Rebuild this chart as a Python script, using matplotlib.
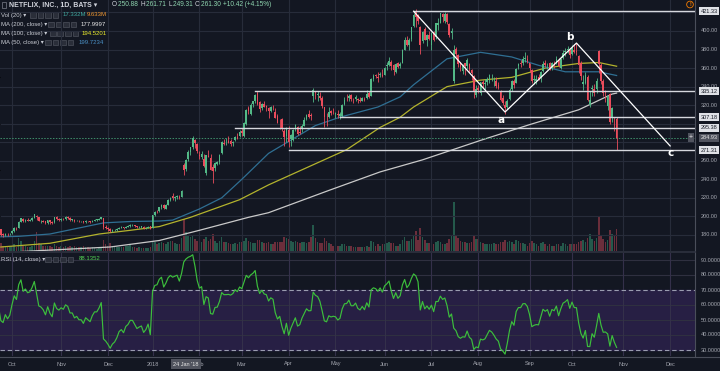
import numpy as np
import pandas as pd
import matplotlib
matplotlib.use("Agg")
import matplotlib.pyplot as plt
from matplotlib.patches import Rectangle
from matplotlib.offsetbox import TextArea, HPacker, AnchoredOffsetbox

plt.rcParams['font.family'] = ['Liberation Sans', 'DejaVu Sans']

# ---------------- data ----------------
holidays = ['2017-09-04', '2017-11-23', '2017-12-25', '2018-01-01', '2018-01-15',
            '2018-02-19', '2018-03-30', '2018-05-28', '2018-07-04', '2018-09-03',
            '2018-11-22', '2018-12-25']

opens = [
 174.0,174.5,175.5,175.5,179.0,179.5,181.5,183.5,182.5,183.5,185.0,186.0,184.0,187.0,187.5,186.0,180.5,180.0,181.0,180.5,
 182.0,184.5,187.8,187.5,194.0,197.5,195.0,196.5,195.5,196.0,198.5,200.0,199.0,195.0,195.5,194.5,192.5,196.0,194.0,193.5,199.0,197.0,
 196.5,197.5,197.0,199.0,198.5,196.5,196.5,195.0,195.5,194.5,194.5,193.5,195.0,194.5,194.0,195.5,196.5,196.5,197.5,198.5,188.5,
 187.0,186.5,184.0,185.0,185.5,186.5,188.0,188.5,187.5,189.0,189.5,190.5,190.5,189.5,188.5,188.8,189.0,187.5,188.0,189.5,
 188.0,201.5,206.0,205.5,210.0,212.5,208.5,212.5,217.5,222.0,219.5,220.5,221.0,221.0,255.0,250.9,261.5,270.0,274.5,282.0,278.0,
 266.0,264.0,262.0,247.0,265.5,263.0,253.0,252.0,256.0,259.0,268.0,279.5,278.0,281.0,281.0,279.0,282.0,285.5,287.0,
 292.0,287.0,300.0,317.0,311.0,321.0,324.0,333.0,323.0,317.0,321.5,319.0,316.5,314.0,317.0,313.0,308.0,304.0,305.0,292.0,287.0,
 293.0,283.0,282.0,295.0,296.0,291.0,295.0,298.0,305.0,311.0,309.0,329.5,334.0,331.0,329.5,327.5,318.0,306.0,307.0,313.5,313.0,
 310.5,310.0,308.0,308.0,321.5,327.0,328.0,331.0,327.0,327.0,327.0,326.0,325.0,327.0,328.0,333.0,330.0,348.5,352.0,350.0,352.0,353.0,
 353.0,362.0,363.0,367.0,363.0,356.0,365.0,362.0,366.0,380.0,390.0,385.0,391.0,405.0,421.4,417.0,404.0,389.0,402.0,390.0,396.0,
 385.0,399.0,393.0,407.0,409.0,418.0,411.0,418.5,408.0,398.0,346.0,381.0,374.0,364.0,357.0,365.0,362.0,364.0,358.0,351.0,331.0,
 338.0,333.0,345.0,343.0,345.0,347.0,350.0,346.0,346.5,342.0,335.0,328.0,320.0,318.0,327.0,337.0,346.0,344.0,362.0,366.0,365.0,370.0,370.0,
 365.0,358.0,347.0,346.0,350.0,350.0,357.0,366.0,364.0,365.0,360.0,366.0,366.0,369.0,360.0,371.0,377.0,379.0,379.0,
 375.0,380.0,378.0,373.0,365.0,343.0,344.0,350.0,320.0,337.0,337.0,337.0,378.0,363.0,346.0,334.0,319.0,332.0,307.0,300.0,305.0]

highs = [
 175.5,176.0,176.5,179.5,180.0,182.0,184.5,184.0,184.5,185.5,187.0,186.5,188.0,189.0,188.0,186.5,182.5,182.0,182.5,182.5,
 185.5,188.5,189.0,195.0,198.5,198.5,197.5,198.0,197.0,199.0,203.0,202.0,199.5,196.0,196.5,195.5,196.5,196.5,195.0,199.5,200.0,198.0,
 198.5,198.5,200.5,200.0,199.0,197.5,197.0,196.5,196.0,195.5,195.0,196.0,195.5,195.0,196.5,197.5,197.5,198.5,199.5,198.5,190.5,
 189.0,188.0,186.5,186.5,187.5,189.0,189.5,189.0,190.0,191.0,191.5,192.0,191.0,190.0,190.0,190.0,189.5,189.0,190.0,190.0,
 201.5,206.0,207.0,210.0,213.0,213.0,213.5,218.5,221.0,225.0,222.0,223.0,223.0,228.0,257.5,261.7,272.0,275.0,286.8,283.5,279.0,
 271.0,270.5,267.0,266.0,272.0,267.0,256.0,259.0,260.0,267.0,281.0,283.0,285.0,286.5,284.0,281.0,287.0,290.0,293.0,
 295.0,301.5,316.0,319.0,322.0,325.0,332.0,335.1,325.0,322.0,324.0,320.0,317.5,319.0,320.0,317.0,311.0,305.0,306.0,294.0,296.0,
 297.0,289.0,294.0,300.0,298.0,297.5,300.0,307.0,310.0,315.0,312.0,338.8,335.0,335.5,334.5,330.0,318.0,312.0,318.0,315.0,316.5,
 313.0,314.5,313.0,321.0,328.5,332.0,331.5,332.5,328.0,331.0,328.0,328.5,329.0,329.0,336.0,335.0,349.0,354.0,354.0,356.0,356.0,359.0,
 361.0,367.0,372.0,368.5,364.0,366.0,367.0,367.0,381.0,393.0,395.0,392.0,404.0,419.0,423.2,418.0,405.0,400.0,404.0,396.5,400.0,
 399.0,400.0,409.0,414.0,419.0,419.5,420.0,419.5,409.0,403.0,385.0,383.0,375.0,367.0,364.0,366.0,370.5,366.0,359.0,352.0,342.0,
 342.0,345.0,347.0,348.0,350.0,354.0,354.0,350.0,350.0,345.0,336.0,331.0,324.0,327.0,338.0,347.0,348.0,360.0,366.0,368.5,373.5,377.0,374.0,
 366.0,359.0,352.0,352.0,354.0,357.0,368.0,368.5,366.0,366.5,367.0,367.5,373.0,371.0,371.0,379.0,382.0,384.0,381.0,
 385.0,386.0,387.0,374.0,368.0,353.0,356.0,352.0,335.0,342.0,343.0,349.0,380.0,365.0,348.0,336.0,331.0,333.0,318.0,307.0,307.0]

lows = [
 172.5,172.0,173.5,175.0,177.0,178.5,181.0,181.5,181.5,182.5,184.0,183.0,183.5,185.5,182.5,178.5,178.0,178.5,179.0,179.5,
 180.5,183.5,185.5,187.0,193.5,194.0,194.0,195.0,194.5,195.5,198.0,196.0,194.5,192.5,193.5,191.5,192.0,192.0,191.5,193.0,196.5,195.5,
 195.5,196.0,196.5,197.5,195.5,195.0,194.0,194.5,193.5,193.5,192.5,193.0,193.5,193.0,193.5,195.0,195.5,196.0,197.0,186.5,186.5,
 184.5,183.5,183.0,184.0,184.5,186.0,187.5,186.5,187.0,188.5,189.0,189.5,188.5,187.5,187.5,188.0,186.5,186.5,187.5,186.0,
 187.5,200.5,204.0,204.5,208.5,208.0,208.0,212.0,216.5,218.0,217.0,219.0,218.5,220.5,245.0,249.3,260.0,266.0,273.0,274.0,268.0,
 262.0,262.0,253.0,245.0,264.0,250.0,236.5,249.5,255.0,257.0,267.5,276.5,277.5,279.0,276.0,276.0,281.0,284.0,286.0,
 287.0,286.0,299.0,311.0,309.0,317.5,322.5,320.5,313.0,315.0,317.5,314.0,306.0,313.0,315.0,306.0,300.5,294.0,292.0,275.9,280.5,
 275.0,276.0,281.5,292.0,287.5,289.0,291.0,297.0,304.0,306.0,304.0,323.0,327.0,325.0,325.5,317.0,296.0,297.0,306.5,309.0,310.5,
 306.5,306.5,305.5,307.5,320.5,324.0,325.0,324.0,322.5,324.0,322.0,323.0,324.0,324.5,327.0,327.5,329.5,346.0,349.0,345.0,350.0,350.0,
 352.0,358.0,362.0,358.0,352.0,355.0,360.0,360.0,365.5,379.0,383.5,380.0,389.0,404.0,404.5,407.5,375.0,387.0,390.0,384.0,390.0,
 380.0,389.0,391.0,401.5,408.5,410.0,409.0,408.0,393.0,391.0,344.0,372.0,361.0,356.5,354.0,352.0,359.0,356.0,347.5,328.0,328.5,
 333.0,331.0,339.0,336.0,342.0,344.0,346.0,341.0,338.5,337.0,325.0,320.0,310.9,316.0,326.0,335.5,338.0,343.5,359.0,361.0,363.5,367.0,365.0,
 356.0,344.0,343.0,342.5,347.0,345.0,356.0,361.0,359.0,358.0,358.0,360.0,364.0,361.0,359.0,370.0,373.0,376.0,371.0,
 374.0,376.0,374.0,355.0,347.0,336.0,343.0,325.0,317.7,330.0,330.0,333.0,355.0,343.0,330.0,323.0,315.0,300.0,302.0,292.0,271.3]

closes = [
 174.7,175.1,175.0,179.0,178.5,181.1,183.8,182.6,183.6,184.7,185.8,183.9,187.0,188.0,183.0,180.0,179.5,181.5,180.5,181.4,
 184.5,187.8,187.0,194.4,198.0,195.0,196.5,195.5,196.0,198.5,202.7,199.5,195.5,195.1,194.2,192.5,196.0,193.8,192.5,199.0,197.0,196.4,
 197.5,197.0,199.0,198.5,196.5,196.5,195.0,195.5,194.5,194.5,193.5,195.0,194.5,194.0,195.5,196.5,196.5,197.5,199.0,188.5,187.5,
 186.0,184.0,185.0,185.5,186.5,188.0,188.5,187.5,189.0,189.5,190.5,190.5,189.5,188.5,188.8,189.0,187.5,188.0,189.0,186.5,
 201.1,205.1,205.6,210.0,212.0,209.3,212.5,217.5,220.0,219.5,220.5,221.5,220.0,227.6,250.3,261.3,269.7,274.6,284.6,278.8,270.3,
 265.1,267.7,254.3,265.7,264.6,250.1,249.5,258.0,258.3,266.0,280.3,278.5,278.6,279.0,278.5,280.5,286.0,284.8,291.4,
 290.4,301.0,315.0,313.5,320.0,324.0,331.4,321.3,315.9,321.2,318.5,318.0,313.5,317.5,316.5,306.5,301.0,303.5,294.0,285.8,295.4,
 280.3,287.5,293.0,299.0,289.0,290.5,298.0,303.5,309.5,307.5,307.8,336.1,333.1,332.0,327.8,318.7,307.0,305.8,313.0,311.7,312.5,
 312.0,309.0,310.5,320.0,326.0,326.3,330.3,326.3,326.3,329.0,325.5,324.5,327.5,325.5,331.5,329.0,348.5,351.5,351.0,349.5,353.9,351.6,
 359.9,363.0,367.5,362.0,357.5,364.5,361.0,364.0,379.9,390.5,384.9,390.4,404.0,416.8,415.4,411.1,384.5,399.4,390.4,395.4,391.4,
 398.2,390.5,408.3,408.3,418.9,415.4,418.0,410.0,395.8,400.5,379.5,375.1,364.2,361.0,362.7,362.2,368.7,358.8,355.2,334.9,337.5,
 336.0,344.5,343.0,344.0,348.0,352.0,350.0,346.0,341.0,338.0,326.0,322.4,316.8,325.0,336.5,346.0,341.5,358.8,364.6,364.5,370.2,370.3,367.7,
 360.0,346.5,348.0,348.7,348.4,355.9,364.6,362.8,364.6,359.0,366.0,365.0,370.0,362.0,369.6,376.3,378.0,380.7,374.1,
 381.4,377.1,377.0,363.6,351.4,345.1,352.0,326.0,325.9,339.0,333.1,346.4,364.7,346.4,332.7,333.1,329.5,301.8,316.8,299.8,284.9]

volumes = [  # millions of shares
 6,4,5,7,5, 5,6,4,5,5, 5,4,6,5,4, 7,5,5,4,4,
 5,6,4,12,9, 5,5,4,4,5, 9,17,7,6,5, 5,5,5,4,6, 5,4,
 5,4,5,4,5, 4,5,4,4,4, 5,4,4,3,4, 3,2,4,4,10, 6,
 5,7,5,4,4, 4,4,4,5,5, 6,4,4,3,4, 3,3,3,3,4,
 9,8,6,7,8, 7,6,8,9,9, 7,6,6,12, 29,17,15,13,15, 11,9,
 9,8,11,13,9, 11,16,9,7,9, 13,8,8,7,6, 6,7,6,8,
 8,9,12,9,8, 7,7,10,10,8, 7,7,8,6,6, 8,8,8,8,13, 12,
 11,9,8,9,8, 7,8,8,7,8, 13,24,12,8,7, 7,12,9,7,6, 5,
 5,5,5,6,6, 5,5,5,4,4, 4,4,4,4,5, 4,9,8,5,6, 5,6,
 6,7,8,7,7, 5,5,6,10,13, 9,9,11,14,18, 10,21,13,10,7, 7,
 8,6,8,9,8, 6,6,7,11,14, 45,15,12,9,8, 8,7,7,8,14, 11,
 11,8,7,6,6, 6,6,7,6,6, 8,8,10,8,9, 8,6,10,9,7, 7,6,5,
 7,9,7,6,5, 7,8,6,5,6, 5,5,6,6,5, 7,6,5,6,
 6,6,6,8,9, 10,8,12,16,11, 9,12,32,15,11, 8,10,19,16,15, 20]

# moving averages: (date, value)
ma50_pts = [('2017-09-25', 178), ('2017-10-05', 178.5), ('2017-10-25', 181), ('2017-11-20', 190),
            ('2017-11-29', 193), ('2017-12-15', 194.5), ('2018-01-05', 195), ('2018-01-16', 196),
            ('2018-02-01', 208), ('2018-02-15', 220), ('2018-03-01', 240), ('2018-03-19', 268),
            ('2018-04-18', 298), ('2018-05-03', 307), ('2018-05-29', 318), ('2018-06-12', 329),
            ('2018-06-20', 342), ('2018-07-12', 370), ('2018-08-02', 377), ('2018-08-22', 372),
            ('2018-09-10', 363), ('2018-09-26', 356), ('2018-10-17', 356), ('2018-10-29', 352)]
ma100_pts = [('2017-09-25', 167), ('2017-10-25', 171), ('2017-11-27', 181), ('2017-12-15', 185),
             ('2018-01-05', 189), ('2018-01-26', 199), ('2018-02-28', 218), ('2018-03-19', 234),
             ('2018-05-08', 272), ('2018-05-30', 296), ('2018-06-12', 307), ('2018-06-20', 318),
             ('2018-07-12', 340), ('2018-08-02', 347), ('2018-08-22', 350), ('2018-09-13', 360),
             ('2018-10-04', 365), ('2018-10-17', 366), ('2018-10-29', 362)]
ma200_pts = [('2017-09-25', 161), ('2017-11-09', 165), ('2017-12-04', 167), ('2018-01-05', 174),
             ('2018-02-01', 185), ('2018-03-06', 199), ('2018-03-19', 204), ('2018-04-26', 228),
             ('2018-05-30', 248), ('2018-06-26', 261), ('2018-08-02', 282), ('2018-09-04', 299),
             ('2018-10-04', 315), ('2018-10-25', 332), ('2018-10-29', 333)]

month_labels = ['Sep', 'Oct', 'Nov', 'Dec', '2018', 'Feb', 'Mar', 'Apr', 'May', 'Jun',
                'Jul', 'Aug', 'Sep', 'Oct', 'Nov', 'Dec']
price_ticks = [180, 200, 220, 240, 260, 280, 300, 320, 340, 360, 380, 400, 420]
rsi_ticks = [30, 40, 50, 60, 70, 80, 90]

level_values = [421.33, 335.12, 307.18, 295.38, 271.31]
level_starts = ['2018-06-20', '2018-03-09', '2018-05-03', '2018-02-26', '2018-04-02']
last_price = 284.93
abc_dates = ['2018-06-20', '2018-08-17', '2018-10-03', '2018-12-03']
abc_prices = [421.33, 312.6, 387.0, 276.0]
abc_labels = [('a', '2018-08-15', 303.5), ('b', '2018-09-28', 393.5), ('c', '2018-12-03', 268.5)]

legend_ohlc = [('O', '250.88'), ('H', '261.71'), ('L', '249.31'), ('C', '261.30')]
legend_change = '+10.42 (+4.15%)'

# ---------------- layout / style ----------------
W, H = 720, 371
BG = '#131722'
GRID = '#272c3a'
TXT = '#a3a6af'
UP, DN = '#53b987', '#eb4d5c'
VUP, VDN = '#24594b', '#6b2e3b'

fig = plt.figure(figsize=(W / 100, H / 100), dpi=100)
fig.patch.set_facecolor(BG)

def fx(px):
    return px / W

def fy(py):
    return 1 - py / H

PLOT_R = 695
ax = fig.add_axes([0, fy(251), fx(PLOT_R), 251 / H])
rax = fig.add_axes([0, fy(356), fx(PLOT_R), (356 - 253) / H])

all_dates = [d for d in pd.bdate_range('2017-09-01', '2018-12-31') if d.strftime('%Y-%m-%d') not in holidays]
idx = {d.strftime('%Y-%m-%d'): i for i, d in enumerate(all_dates)}
n = len(closes)
x = np.arange(n)
o, h, l, c, v = map(np.array, (opens, highs, lows, closes, volumes))

PX_PER_BAR = 2.231
x0 = idx['2017-10-02']
xlim = (x0 - 12 / PX_PER_BAR, x0 + (PLOT_R - 12) / PX_PER_BAR)
plim = (400 - (251 - 31) / 0.927, 400 + 31 / 0.927)

month_pos = []
seen = set()
for i, d in enumerate(all_dates):
    key = (d.year, d.month)
    if key not in seen:
        seen.add(key)
        month_pos.append(i)

for a in (ax, rax):
    a.set_facecolor(BG)
    a.set_xlim(*xlim)
    a.tick_params(left=False, right=False, bottom=False, top=False,
                  labelleft=False, labelbottom=False)
    for s in a.spines.values():
        s.set_visible(False)

for mp in month_pos:
    ax.axvline(mp, color=GRID, lw=0.8, zorder=0)
ax.set_ylim(*plim)
for p in price_ticks:
    ax.axhline(p, color=GRID, lw=0.8, zorder=0)
ax.axhline(160, color=GRID, lw=0.8, zorder=0)

# volume
vax = ax.twinx()
vax.set_xlim(*xlim)
vax.set_ylim(0, 230)
vax.axis('off')
up = c >= o
vax.bar(x, v, width=0.7, color=np.where(up, VUP, VDN), lw=0, zorder=1)
ax.set_zorder(vax.get_zorder() + 1)
ax.patch.set_visible(False)

def pts(lst):
    return [idx[d] for d, _ in lst], [val for _, val in lst]

for lst, col in ((ma200_pts, '#c9c9c9'), (ma100_pts, '#b3b32d'), (ma50_pts, '#2f6f93')):
    xs, ys = pts(lst)
    ax.plot(xs, ys, color=col, lw=0.9, zorder=2)

# candles
col = np.where(up, UP, DN)
ax.vlines(x, l, h, colors=col, lw=0.6, zorder=3)
ax.bar(x, np.maximum(np.abs(c - o), 0.4), bottom=np.minimum(o, c), width=0.72, color=col, lw=0, zorder=4)

# level lines
for val, st in zip(level_values, level_starts):
    ax.plot([idx[st], xlim[1]], [val, val], color='#d6d8de', lw=1.0, zorder=5)
ax.axhline(last_price, color='#3f8f6b', lw=0.7, ls=(0, (1.5, 1.5)), zorder=2)

# abc trendlines
ax.plot([idx[d] for d in abc_dates], abc_prices, color='#ffffff', lw=0.9, zorder=6)
for t, d, p in abc_labels:
    ax.text(idx[d], p, t, color='white', fontsize=7.5, fontweight='bold', ha='center', va='center', zorder=7,
            family='DejaVu Sans')

# RSI
diff = np.diff(c, prepend=c[0])
gain = pd.Series(np.where(diff > 0, diff, 0.0)).ewm(alpha=1 / 14, adjust=False).mean()
loss = pd.Series(np.where(diff < 0, -diff, 0.0)).ewm(alpha=1 / 14, adjust=False).mean()
rsi = 100 - 100 / (1 + gain / loss.replace(0, np.nan))
rax.set_ylim(26, 70 + 37 / 1.5)
rax.axhspan(30, 70, color='#271f44', zorder=0)
for t in rsi_ticks:
    if t not in (30, 70):
        rax.axhline(t, color='#2f3040', lw=0.8, zorder=0.5)
for mp in month_pos:
    rax.axvline(mp, color='#34304a', lw=0.8, zorder=0.6)
rax.axhline(70, color='#9a9cb0', lw=0.8, ls=(0, (4, 2.5)), zorder=1)
rax.axhline(30, color='#9a9cb0', lw=0.8, ls=(0, (4, 2.5)), zorder=1)
rax.plot(x[1:], rsi[1:], color='#3cbf3c', lw=0.85, zorder=3)

# pane borders
fig.add_artist(plt.Line2D([fx(PLOT_R), fx(PLOT_R)], [fy(356), 1], color='#4a4e5a', lw=0.8))
fig.add_artist(plt.Line2D([0, fx(PLOT_R)], [fy(252), fy(252)], color='#2e3240', lw=1.2))
fig.add_artist(plt.Line2D([0, 1], [fy(356.5), fy(356.5)], color='#4a4e5a', lw=0.8))

# right price scale
FS = 4.0
ytr = ax.get_yaxis_transform()
for p in price_ticks:
    if p in (420, 300, 280):
        continue
    ax.text(1.008, p, f'{p:.2f}', transform=ytr, color=TXT, fontsize=FS, va='center', ha='left', clip_on=False)
for val in level_values:
    ax.text(1.008, val, f'{val:.2f}', transform=ytr, color='#131722', fontsize=FS, va='center', ha='left',
            clip_on=False, zorder=10, bbox=dict(boxstyle='square,pad=0.3', fc='#dfe1e6', ec='none'))
ax.text(1.008, last_price, f'{last_price:.2f}', transform=ytr, color='#e8e8e8', fontsize=FS, va='center',
        ha='left', clip_on=False, zorder=10, bbox=dict(boxstyle='square,pad=0.3', fc='#50535e', ec='none'))
ax.text(0.997, last_price, '+', transform=ytr, color='#e8e8e8', fontsize=5, va='center', ha='right',
        clip_on=False, zorder=10, bbox=dict(boxstyle='square,pad=0.15', fc='#50535e', ec='none'))

rtr = rax.get_yaxis_transform()
for t in rsi_ticks:
    rax.text(1.008, t, f'{t:.4f}', transform=rtr, color=TXT, fontsize=FS, va='center', ha='left', clip_on=False)

# x-axis labels
for mp, lab in zip(month_pos, month_labels):
    if xlim[0] <= mp <= xlim[1]:
        fig.text(fx(12 + (mp - x0) * PX_PER_BAR), fy(364), lab, color=TXT, fontsize=FS, ha='center', va='center')
jx = fx(12 + (idx['2018-01-24'] - x0) * PX_PER_BAR)
fig.text(jx, fy(364), "24 Jan '18", color='#e8e8e8', fontsize=FS, ha='center', va='center',
         bbox=dict(boxstyle='square,pad=0.45', fc='#50535e', ec='none'))

# legend
def icons(x_start, y_c):
    for k in range(4):
        fig.add_artist(Rectangle((fx(x_start + k * 7.5), fy(y_c + 2.5)), 5.5 / W, 5 / H,
                                 transform=fig.transFigure, fc='#2a2e39', ec='#4c505c', lw=0.5))

fig.add_artist(Rectangle((fx(2), fy(7.5)), 4 / W, 5 / H, transform=fig.transFigure, fc='none', ec='#6a6e7a', lw=0.6))
fig.text(fx(9), fy(5), 'NETFLIX, INC., 1D, BATS \u25be', color='#d1d4dc', fontsize=5, fontweight='bold', va='center')

parts = []
for k, val in legend_ohlc:
    parts.append(TextArea(k, textprops=dict(color='#d1d4dc', fontsize=4.7)))
    parts.append(TextArea(val + ' ', textprops=dict(color='#8fd6b0', fontsize=4.7)))
parts.append(TextArea(legend_change, textprops=dict(color='#8fd6b0', fontsize=4.7)))
row1 = HPacker(children=parts, align='center', pad=0, sep=0.6)
fig.add_artist(AnchoredOffsetbox(loc='center left', child=row1, pad=0, borderpad=0, frameon=False,
                                 bbox_to_anchor=(fx(112), fy(5)), bbox_transform=fig.transFigure))

LF = 4.3
fig.text(fx(1), fy(15), 'Vol (20) \u25be', color='#c8cbd3', fontsize=LF, va='center')
icons(30, 15)
fig.text(fx(63), fy(15), '17.332M', color='#3fa9a0', fontsize=LF, va='center')
fig.text(fx(87), fy(15), '9.633M', color='#f0962e', fontsize=LF, va='center')
fig.text(fx(1), fy(24.3), 'MA (200, close) \u25be', color='#c8cbd3', fontsize=LF, va='center')
icons(48, 24.3)
fig.text(fx(81), fy(24.3), '177.9997', color='#e8e8e8', fontsize=LF, va='center')
fig.text(fx(1), fy(33.3), 'MA (100, close) \u25be', color='#c8cbd3', fontsize=LF, va='center')
icons(50, 33.3)
fig.text(fx(82), fy(33.3), '194.5201', color='#eaea2a', fontsize=LF, va='center')
fig.text(fx(1), fy(42.3), 'MA (50, close) \u25be', color='#c8cbd3', fontsize=LF, va='center')
icons(45, 42.3)
fig.text(fx(79), fy(42.3), '199.7234', color='#4a8fc4', fontsize=LF, va='center')

fig.text(fx(1), fy(259), 'RSI (14, close) \u25be', color='#c8cbd3', fontsize=LF, va='center')
icons(45, 259)
fig.text(fx(79), fy(259), '88.1352', color='#52d152', fontsize=LF, va='center')

fig.text(fx(690), fy(4.5), '!', color='#f57c00', fontsize=4, ha='center', va='center', fontweight='bold',
         bbox=dict(boxstyle='circle,pad=0.15', fc='none', ec='#f57c00', lw=0.6))

fig.savefig('out.png', dpi=100, facecolor=BG)
